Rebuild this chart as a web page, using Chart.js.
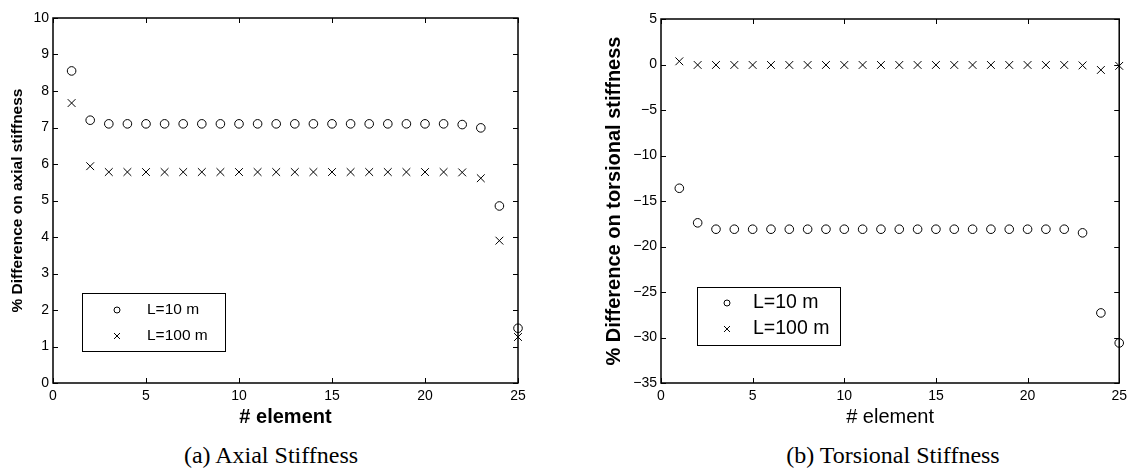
<!DOCTYPE html>
<html>
<head>
<meta charset="utf-8">
<title>Stiffness difference per element</title>
<script src="https://cdn.jsdelivr.net/npm/chart.js@4.4.1/dist/chart.umd.min.js"></script>
<style>
  body { margin: 0; background: #fff; width: 1132px; height: 468px; position: relative; overflow: hidden; }
  canvas { position: absolute; top: 0; }
  #axialChart { left: 0; }
  #torsionChart { left: 566px; }
  .caption {
    position: absolute; top: 442px; white-space: nowrap;
    font-family: "Liberation Serif", "Times New Roman", serif; font-size: 24px;
    transform: translateX(-50%); color: #000;
  }
</style>
</head>
<body>
<canvas id="axialChart" width="566" height="430"></canvas>
<canvas id="torsionChart" width="566" height="430"></canvas>
<div class="caption" style="left:271px">(a) Axial Stiffness</div>
<div class="caption" style="left:893px">(b) Torsional Stiffness</div>

<script>
// element numbers along the beam
var elements = [1, 2, 3, 4, 5, 6, 7, 8, 9, 10, 11, 12, 13, 14, 15, 16, 17, 18, 19, 20, 21, 22, 23, 24, 25];
var seriesLabels = ["L=10 m", "L=100 m"];

// % difference on axial stiffness
var axialL10 = [8.55, 7.20, 7.10, 7.10, 7.10, 7.10, 7.10, 7.10, 7.10, 7.10, 7.10, 7.10, 7.10,
                7.10, 7.10, 7.10, 7.10, 7.10, 7.10, 7.10, 7.10, 7.08, 6.99, 4.85, 1.50];
var axialL100 = [7.67, 5.94, 5.78, 5.78, 5.78, 5.78, 5.78, 5.78, 5.78, 5.78, 5.78, 5.78, 5.78,
                 5.78, 5.78, 5.78, 5.78, 5.78, 5.78, 5.78, 5.78, 5.77, 5.61, 3.90, 1.26];

// % difference on torsional stiffness
var torsionL10 = [-13.6, -17.4, -18.1, -18.1, -18.1, -18.1, -18.1, -18.1, -18.1, -18.1, -18.1, -18.1, -18.1,
                  -18.1, -18.1, -18.1, -18.1, -18.1, -18.1, -18.1, -18.1, -18.1, -18.5, -27.3, -30.6];
var torsionL100 = [0.35, -0.05, -0.05, -0.05, -0.05, -0.05, -0.05, -0.05, -0.05, -0.05, -0.05, -0.05, -0.05,
                   -0.05, -0.05, -0.05, -0.05, -0.05, -0.05, -0.05, -0.05, -0.05, -0.1, -0.6, -0.15];

// tick labels
var xTicks = [0, 5, 10, 15, 20, 25];
var axialYTicks = [0, 1, 2, 3, 4, 5, 6, 7, 8, 9, 10];
var torsionYTicks = [-35, -30, -25, -20, -15, -10, -5, 0, 5];

Chart.defaults.font.family = "'Liberation Sans', Arial, Helvetica, sans-serif";
Chart.defaults.color = "#000";

// MATLAB-style box with inward ticks on all four sides
var boxTicks = {
  id: "boxTicks",
  beforeDatasetsDraw: function (chart, args, opts) {
    var ctx = chart.ctx;
    var a = chart.chartArea;
    var x = chart.scales.x;
    var y = chart.scales.y;
    var len = opts.length || 5;
    ctx.save();
    ctx.strokeStyle = "#000";
    ctx.lineWidth = 1;
    ctx.beginPath();
    x.ticks.forEach(function (t) {
      var px = Math.round(x.getPixelForValue(t.value)) + 0.5;
      ctx.moveTo(px, a.bottom); ctx.lineTo(px, a.bottom - len);
      ctx.moveTo(px, a.top); ctx.lineTo(px, a.top + len);
    });
    y.ticks.forEach(function (t) {
      var py = Math.round(y.getPixelForValue(t.value)) + 0.5;
      ctx.moveTo(a.left, py); ctx.lineTo(a.left + len, py);
      ctx.moveTo(a.right, py); ctx.lineTo(a.right - len, py);
    });
    ctx.stroke();
    ctx.lineWidth = 1.5;
    ctx.strokeRect(a.left, a.top, a.right - a.left, a.bottom - a.top);
    ctx.restore();
  }
};

// legend drawn as a framed box inside the plot
var boxLegend = {
  id: "boxLegend",
  afterDraw: function (chart, args, opts) {
    var ctx = chart.ctx;
    ctx.save();
    ctx.fillStyle = "#fff";
    ctx.fillRect(opts.left, opts.top, opts.width, opts.height);
    ctx.strokeStyle = "#000";
    ctx.lineWidth = 1;
    ctx.strokeRect(opts.left + 0.5, opts.top + 0.5, opts.width, opts.height);
    ctx.font = opts.fontSize + "px 'Liberation Sans', Arial, sans-serif";
    ctx.textBaseline = "middle";
    chart.data.datasets.forEach(function (ds, i) {
      var cy = opts.top + opts.firstRow + i * opts.rowGap;
      var cx = opts.left + opts.markerX;
      ctx.fillStyle = "rgba(0,0,0,0)";
      ctx.strokeStyle = "#000";
      Chart.helpers.drawPoint(ctx, {
        pointStyle: ds.pointStyle,
        radius: opts.markerRadius[i],
        borderWidth: 1,
        rotation: 0
      }, cx, cy);
      ctx.fillStyle = "#000";
      ctx.fillText(ds.label, opts.left + opts.textX, cy);
    });
    ctx.restore();
  }
};

function makeSeries(label, values, style, radius) {
  return {
    label: label,
    data: elements.map(function (e, i) { return { x: e, y: values[i] }; }),
    pointStyle: style,
    pointRadius: radius,
    pointHoverRadius: radius,
    pointBorderWidth: 1,
    borderColor: "#000",
    backgroundColor: "rgba(0,0,0,0)",
    showLine: false,
    clip: false
  };
}

function tickText(v) {
  return String(v).replace("-", "\u2212");
}

function createChart(id, cfg) {
  return new Chart(document.getElementById(id), {
    type: "scatter",
    data: {
      datasets: [
        makeSeries(seriesLabels[0], cfg.l10, "circle", 4.3),
        makeSeries(seriesLabels[1], cfg.l100, "crossRot", 5.5)
      ]
    },
    options: {
      responsive: false,
      animation: false,
      events: [],
      layout: { padding: cfg.padding },
      plugins: {
        legend: { display: false },
        tooltip: { enabled: false },
        boxTicks: { length: 5 },
        boxLegend: cfg.legend
      },
      scales: {
        x: {
          type: "linear",
          min: 0,
          max: 25,
          afterBuildTicks: function (scale) {
            scale.ticks = xTicks.map(function (v) { return { value: v }; });
          },
          afterFit: function (scale) { scale.height = 47; },
          grid: { display: false, drawTicks: false },
          border: { display: false },
          ticks: { padding: 5, font: { size: 14 }, callback: tickText, maxRotation: 0 },
          title: {
            display: true,
            text: "# element",
            font: { size: 20, weight: cfg.xTitleWeight, lineHeight: 1.2 },
            padding: { top: 0, bottom: 1 }
          }
        },
        y: {
          type: "linear",
          min: cfg.yTicks[0],
          max: cfg.yTicks[cfg.yTicks.length - 1],
          afterBuildTicks: function (scale) {
            scale.ticks = cfg.yTicks.map(function (v) { return { value: v }; });
          },
          afterFit: function (scale) { scale.width = cfg.yWidth; },
          grid: { display: false, drawTicks: false },
          border: { display: false },
          ticks: { padding: 4, font: { size: 14 }, callback: tickText },
          title: {
            display: true,
            text: cfg.yTitle,
            font: { size: cfg.yTitleSize, weight: "bold", lineHeight: 1.2 },
            padding: { top: cfg.yTitlePad, bottom: 0 }
          }
        }
      }
    },
    plugins: [boxTicks, boxLegend]
  });
}

createChart("axialChart", {
  l10: axialL10,
  l100: axialL100,
  yTicks: axialYTicks,
  yWidth: 53,
  padding: { left: 0, top: 18, right: 48, bottom: 0 },
  yTitle: "% Difference on axial stiffness",
  yTitleSize: 15.5,
  yTitlePad: 8.5,
  xTitleWeight: "bold",
  legend: { left: 82, top: 293, width: 143, height: 58, markerX: 35, textX: 65,
            firstRow: 17, rowGap: 26, fontSize: 15.5, markerRadius: [3, 4.2] }
});

createChart("torsionChart", {
  l10: torsionL10,
  l100: torsionL100,
  yTicks: torsionYTicks,
  yWidth: 95,
  padding: { left: 0, top: 19, right: 6, bottom: 0 },
  yTitle: "% Difference on torsional stiffness",
  yTitleSize: 20,
  yTitlePad: 36,
  xTitleWeight: "normal",
  legend: { left: 131, top: 287, width: 143, height: 58, markerX: 30, textX: 56,
            firstRow: 16, rowGap: 26, fontSize: 19.5, markerRadius: [3, 4.2] }
});
</script>
</body>
</html>
